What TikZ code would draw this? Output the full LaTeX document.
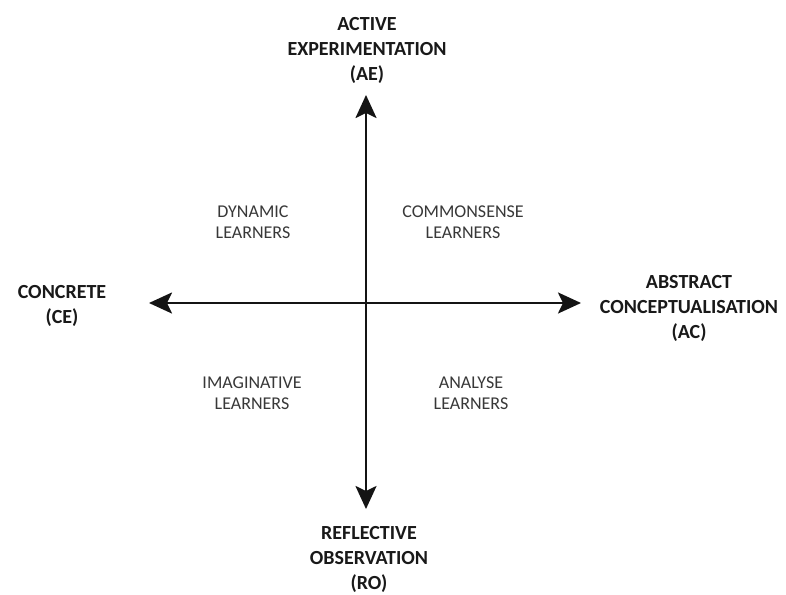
\documentclass[tikz,border=0pt]{standalone}
\usepackage{fontspec}
\setmainfont{Carlito}
\usetikzlibrary{arrows.meta}
\begin{document}
\begin{tikzpicture}[x=1pt,y=-1pt,
  axis/.style={line width=2.5pt,color=black!92,
    arrows={Stealth[length=23pt,width=21pt,inset=5pt]-Stealth[length=23pt,width=21pt,inset=5pt]}},
  pole/.style={font=\fontsize{20}{25}\selectfont\bfseries,text=black!90,align=center,inner sep=0pt},
  quad/.style={font=\fontsize{18}{21}\selectfont,text=black!78,align=center,inner sep=0pt}]
\useasboundingbox[fill=white] (0,0) rectangle (786,594);
\coordinate (top) at (366,95);
\coordinate (bot) at (366,509);
\coordinate (lft) at (149,303);
\coordinate (rgt) at (581,303);
\draw[axis] (bot) -- (top);
\draw[axis] (lft) -- (rgt);
\node[pole] (ae) at (367,50) {ACTIVE\\EXPERIMENTATION\\(AE)};
\node[pole] (ro) at (369,559) {REFLECTIVE\\OBSERVATION\\(RO)};
\node[pole] (ce) at (62,306) {CONCRETE\\(CE)};
\node[pole] (ac) at (689,308) {ABSTRACT\\CONCEPTUALISATION\\(AC)};
\node[quad] (dyn) at (253,222) {DYNAMIC\\LEARNERS};
\node[quad] (com) at (463,222) {COMMONSENSE\\LEARNERS};
\node[quad] (ima) at (252,393) {IMAGINATIVE\\LEARNERS};
\node[quad] (ana) at (471,393) {ANALYSE\\LEARNERS};
\end{tikzpicture}
\end{document}
